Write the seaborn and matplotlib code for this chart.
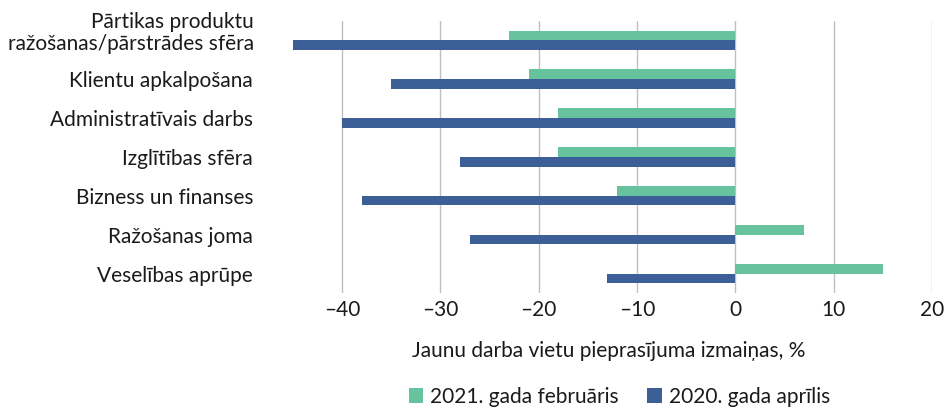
import matplotlib
matplotlib.use("Agg")
import matplotlib.pyplot as plt
import seaborn as sns
import pandas as pd
from matplotlib.patches import Patch

categories = [
    "Pārtikas produktu\nražošanas/pārstrādes sfēra",
    "Klientu apkalpošana",
    "Administratīvais darbs",
    "Izglītības sfēra",
    "Bizness un finanses",
    "Ražošanas joma",
    "Veselības aprūpe",
]
series_names = ["2021. gada februāris", "2020. gada aprīlis"]
feb_2021 = [-23, -21, -18, -18, -12, 7, 15]
apr_2020 = [-45, -35, -40, -28, -38, -27, -13]
x_ticks = [-40, -30, -20, -10, 0, 10, 20]
x_label = "Jaunu darba vietu pieprasījuma izmaiņas, %"
colors = ["#66c39d", "#3c5f98"]

df = pd.DataFrame({
    "cat": categories * 2,
    "val": feb_2021 + apr_2020,
    "series": [series_names[0]] * len(categories) + [series_names[1]] * len(categories),
})

sns.set_theme(style="white")
plt.rcParams["font.family"] = ["Lato", "DejaVu Sans"]
FS = 15
TC = "#1a1a1a"

fig = plt.figure(figsize=(9.5, 4.08), dpi=100)
ax = fig.add_axes([0.300, 0.282, 0.681, 0.667])

sns.barplot(data=df, y="cat", x="val", hue="series", hue_order=series_names,
            palette=colors, orient="h", width=0.5, ax=ax, legend=False,
            saturation=1, edgecolor="none")

ax.set_xlim(-45.8, 20)
ax.set_xticks(x_ticks)
ax.set_xticklabels([str(t).replace("-", "\u2013") for t in x_ticks], fontsize=FS, color=TC)
ax.tick_params(axis="x", length=0, pad=5)
ax.tick_params(axis="y", length=0, pad=23)
ylabels = [""] + categories[1:]
ax.set_yticks(range(len(categories)))
ax.set_yticklabels(ylabels, fontsize=FS, color=TC)
# first (two-line) label sits slightly above its category centre, as in the original
ax.annotate(categories[0], xy=(0, 0), xycoords=("axes fraction", "data"),
            xytext=(-31, 7), textcoords="offset pixels", ha="right", va="center",
            multialignment="right", linespacing=1.1, fontsize=FS, color=TC,
            annotation_clip=False)
ax.set_ylabel("")
ax.set_xlabel(x_label, fontsize=FS, color=TC, labelpad=15)
ax.grid(axis="x", color="#bfbfbf", linewidth=1)
ax.set_axisbelow(True)
for s in ax.spines.values():
    s.set_visible(False)

handles = [Patch(facecolor=c, edgecolor="none") for c in colors]
fig.legend(handles, series_names, loc="center", bbox_to_anchor=(0.652, 0.027),
           ncol=2, frameon=False, fontsize=FS, handlelength=0.7, handleheight=0.7,
           handletextpad=0.35, columnspacing=1.35, labelcolor=TC)

fig.savefig("out.png", dpi=100)
